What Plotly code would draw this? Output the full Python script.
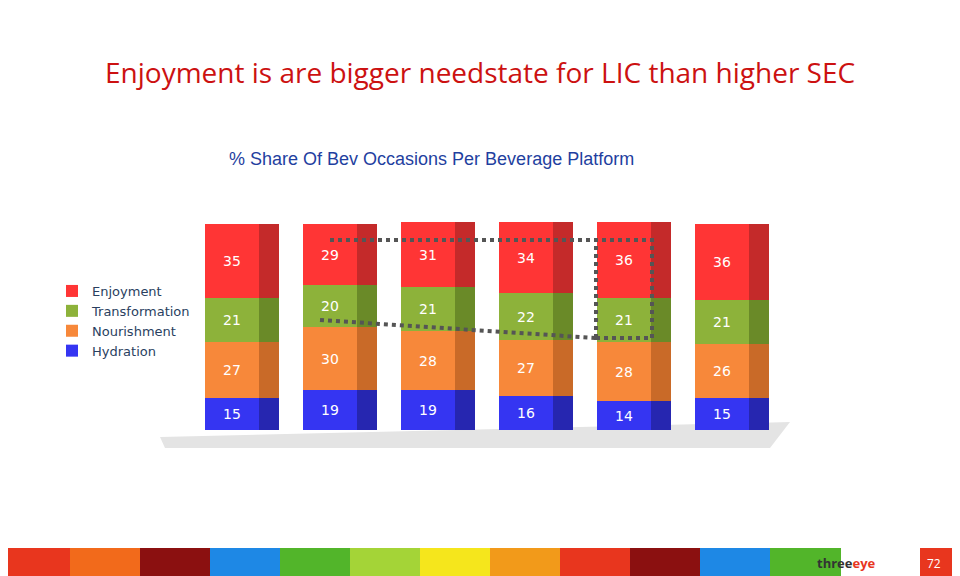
import plotly.graph_objects as go

columns = [0, 1, 2, 3, 4, 5]
series = ["Hydration", "Nourishment", "Transformation", "Enjoyment"]
hydration = [15, 19, 19, 16, 14, 15]
nourishment = [27, 30, 28, 27, 28, 26]
transformation = [21, 20, 21, 22, 21, 21]
enjoyment = [35, 29, 31, 34, 36, 36]

front = {"Hydration": "#3535f2", "Nourishment": "#f7883a",
         "Transformation": "#8db23a", "Enjoyment": "#ff3535"}
side = {"Hydration": "#2626b0", "Nourishment": "#c96a28",
        "Transformation": "#6a8a28", "Enjoyment": "#c42a2a"}
values = {"Hydration": hydration, "Nourishment": nourishment,
          "Transformation": transformation, "Enjoyment": enjoyment}

fig = go.Figure()
for name in series:
    fig.add_trace(go.Bar(
        x=columns, y=values[name], name=name, offsetgroup="f",
        width=0.56, offset=-0.28, marker=dict(color=front[name], line=dict(width=0)),
        text=values[name], textposition="inside", insidetextanchor="middle",
        textfont=dict(color="white", size=14, family="Verdana, DejaVu Sans"),
    ))
for name in series:
    fig.add_trace(go.Bar(
        x=columns, y=values[name], name=name, offsetgroup="s", showlegend=False,
        width=0.2, offset=0.28, marker=dict(color=side[name], line=dict(width=0)),
        hoverinfo="skip",
    ))

# page is drawn with an 8px body margin, so positions are shifted by -8
def px(x):
    return (x - 8) / 960

def py(y):
    return 1 - (y - 8) / 576

shapes = [
    dict(type="path", xref="paper", yref="paper",
         path=f"M {px(160)} {py(437)} L {px(790)} {py(422)} L {px(770)} {py(448)} L {px(165)} {py(448)} Z",
         fillcolor="#e4e4e4", line=dict(width=0), layer="below"),
    dict(type="line", xref="paper", yref="paper", x0=px(330), x1=px(650),
         y0=py(240), y1=py(240), line=dict(color="#555", width=4, dash="dot")),
    dict(type="line", xref="paper", yref="paper", x0=px(320), x1=px(596),
         y0=py(320), y1=py(338), line=dict(color="#555", width=4, dash="dot")),
    dict(type="rect", xref="paper", yref="paper", x0=px(596), x1=px(652),
         y0=py(338), y1=py(240), line=dict(color="#555", width=4, dash="dot")),
]
strip = ["#e8361e", "#f26a1b", "#8b1010", "#1e88e5", "#52b52a", "#a4d437", "#f5e61c",
         "#f29a1a", "#e8361e", "#8b1010", "#1e88e5", "#52b52a"]
n = len(strip)
for i, c in enumerate(strip):
    shapes.append(dict(type="rect", xref="paper", yref="paper", x0=px(i * 840 / n), x1=px((i + 1) * 840 / n + 1),
                       y0=py(576), y1=py(548), fillcolor=c, line=dict(width=0)))
shapes.append(dict(type="rect", xref="paper", yref="paper", x0=px(920), x1=px(970),
                   y0=py(576), y1=py(548), fillcolor="#e8361e", line=dict(width=0)))

fig.update_layout(
    width=960, height=576, margin=dict(l=0, r=0, t=0, b=0, autoexpand=False),
    paper_bgcolor="white", plot_bgcolor="rgba(0,0,0,0)",
    barmode="relative", bargap=0, shapes=shapes,
    xaxis=dict(domain=[px(150), px(810)], range=[-0.837, 5.898], visible=False),
    yaxis=dict(domain=[py(440), py(200)], range=[-4.8, 109.5], visible=False),
    legend=dict(x=px(52), y=py(276), xanchor="left", yanchor="top",
                traceorder="reversed", font=dict(size=13, family="Verdana, DejaVu Sans"),
                itemwidth=30, tracegroupgap=0),
    annotations=[
        dict(text="Enjoyment is are bigger needstate for LIC than higher SEC", x=px(480), y=py(72),
             xref="paper", yref="paper", showarrow=False, xanchor="center", yanchor="middle",
             font=dict(size=28, color="#cc1111", family="Open Sans")),
        dict(text="% Share Of Bev Occasions Per Beverage Platform", x=px(431), y=py(159),
             xref="paper", yref="paper", showarrow=False, xanchor="center", yanchor="middle",
             font=dict(size=18, color="#1f3fa0", family="Liberation Sans")),
        dict(text="<b>three<span style='color:#e8361e'>eye</span></b>", x=px(878), y=py(563),
             xref="paper", yref="paper", showarrow=False, yanchor="middle",
             font=dict(size=13, color="#333")),
        dict(text="72", x=px(943), y=py(563), xref="paper", yref="paper", showarrow=False,
             yanchor="middle", font=dict(size=12, color="white")),
    ],
)
fig.write_html("out.html")
